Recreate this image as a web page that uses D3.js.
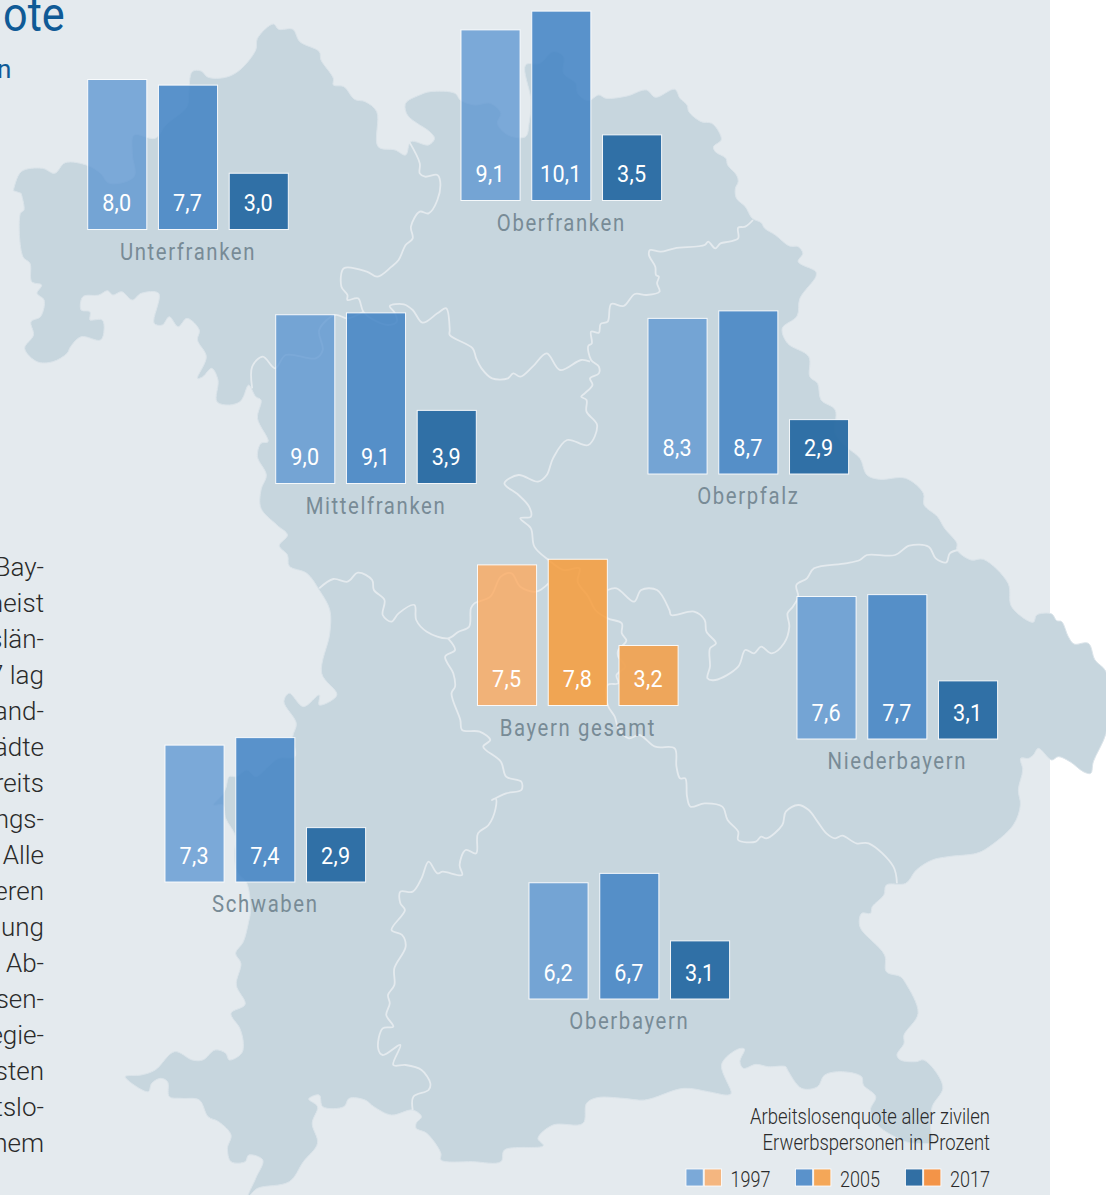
<!DOCTYPE html>
<html><head><meta charset="utf-8">
<style>html,body{margin:0;padding:0;background:#fff;overflow:hidden}svg{display:block}text{font-family:Roboto,sans-serif}</style>
<script src="https://cdn.jsdelivr.net/npm/d3@7"></script>
</head><body><svg id="c" width="1106" height="1195"></svg>
<script>
// ---- chart data ----
const regions = ["Unterfranken","Oberfranken","Mittelfranken","Oberpfalz","Bayern gesamt","Niederbayern","Schwaben","Oberbayern"];
const years = ["1997","2005","2017"];
const q1997 = [8.0,9.1,9.0,8.3,7.5,7.6,7.3,6.2];
const q2005 = [7.7,10.1,9.1,8.7,7.8,7.7,7.4,6.7];
const q2017 = [3.0,3.5,3.9,2.9,3.2,3.1,2.9,3.1];
// Schwaben 2005 is drawn taller in the picture than its printed 7,4
const drawnOverride = {"Schwaben|2005":7.7};
const legendTitle = ["Arbeitslosenquote aller zivilen","Erwerbspersonen in Prozent"];
const bodyFragments = ["Bay-","meist","slän-","7 lag","and-","ädte","reits","ngs-","Alle","eren","lung","Ab-","sen-","egie-","sten","tslo-","hem"];
// ---- layout ----
const groupLeft = [87.7,461,275.7,648,477.5,797,165,529];
const groupBase = [229.5,200.5,483.5,474,705.5,739,882,999];
const blues = ["#5893d0","#4183c4","#286aa2"], bluesSolid=["#7ba9d8","#5a92cb","#316fa4"];
const oranges = ["#ffa555","#f79c3b","#f0a353"], orangesSolid=["#f4b680","#f4a758","#f39448"];
const barOpacity=[.75,.85,.95];
// ---- map tracing (background geometry), crop-relative points ----
const T=(ox,oy,sx,sy,p)=>p.map(([x,y])=>[x/sx+ox,y/sy+oy]);
const Z1=p=>T(0,0,2.835,3,p),Z2=p=>T(553,0,2.835,3,p),Z3=p=>T(0,400,2.835,3,p),Z4=p=>T(553,400,2.835,3,p),Z5=p=>T(0,795,2.835,3,p),Z6=p=>T(553,795,2.835,3,p),Z7=p=>T(1000,590,3,3,p),Z8=p=>T(860,1050,3,3,p);
const outline=[].concat(
Z1([[38,572],[60,515],[120,505],[155,520],[185,488],[250,497],[285,520],[310,550],[380,530],[375,460],[380,405],[440,415],[470,375],[530,320],[535,280],[545,215],[570,213],[590,232],[640,232],[680,210],[725,150],[730,115],[775,72],[790,88],[830,88],[850,125],[905,155],[910,180],[945,235],[945,255],[975,260],[1005,298],[1035,305],[1068,335],[1072,440],[1120,450],[1150,465],[1165,425],[1215,435],[1232,415],[1215,392],[1190,375],[1155,345],[1150,310],[1190,285],[1220,275],[1290,280],[1305,300],[1345,315],[1390,310],[1420,340],[1410,370],[1440,405],[1490,410],[1500,370],[1505,300],[1490,195],[1530,190],[1568,155]]),
Z2([[30,170],[30,220],[65,250],[70,280],[100,302],[130,285],[150,295],[210,288],[265,270],[290,292],[345,268],[360,295],[380,315],[385,335],[420,365],[450,370],[470,395],[477,420],[455,440],[460,455],[490,475],[495,495],[520,525],[525,545],[517,565],[520,595],[545,620],[565,655],[590,668],[600,685],[630,705],[670,738],[695,740],[708,760],[695,785],[745,815],[745,830],[700,895],[692,948],[650,985],[665,1030],[725,1070],[728,1130],[750,1150],[760,1200]]),
Z4([[800,30],[800,100],[837,145],[870,175],[890,225],[925,238],[1000,235],[1050,280],[1052,315],[1090,350],[1110,385],[1145,430],[1145,450],[1185,480],[1220,478],[1290,550],[1300,620]]),
Z7([[100,97],[110,75],[155,72],[170,92],[185,95],[205,140],[222,162],[265,160],[285,210],[318,245],[325,340],[318,430],[280,515],[272,550],[250,545],[210,515],[175,500],[155,510],[115,475],[100,495],[85,505],[62,505],[68,540],[55,600]]),
Z6([[1325,30],[1305,90],[1230,160],[1200,175],[1120,185],[1075,195],[1030,225],[1000,265],[945,270],[938,300],[905,335],[900,355],[875,355],[870,395],[940,480],[945,530],[985,545],[1000,565],[1035,655],[995,720],[995,745],[975,780],[985,795],[1030,800],[1050,795],[1085,830],[1105,880],[1075,935],[1070,1000],[1075,1040],[1030,1045],[1000,1040],[920,990],[900,945],[915,905],[880,870],[875,845],[820,830],[770,840],[750,875],[705,880],[665,825],[660,815],[610,815],[575,808],[540,820],[530,800],[543,762],[525,762],[478,808],[505,895],[495,900],[440,890],[370,880],[260,915],[200,910],[125,908],[95,925],[85,985],[0,990]]),
Z5([[1525,1030],[1540,1052],[1430,1065],[1420,1100],[1340,1100],[1250,1095],[1250,1075],[1210,1015],[1180,1000],[1180,985],[1195,965],[1170,945],[1110,960],[1060,935],[1035,915],[990,910],[975,935],[915,935],[905,900],[875,912],[900,935],[885,985],[900,1045],[860,1100],[820,1160],[730,1180],[703,1205],[725,1150],[745,1095],[705,1080],[695,1100],[655,1100],[645,1060],[655,1020],[620,980],[590,965],[565,915],[515,910],[480,905],[475,860],[455,850],[430,865],[420,890],[355,845],[400,840],[440,825],[495,770],[545,795],[575,795],[610,765],[640,775],[650,795],[685,775],[690,745],[680,700],[655,655],[695,628],[670,570],[683,505],[668,475],[690,440],[705,380],[710,350],[700,265],[672,230],[665,175],[668,125],[640,70],[632,30],[605,30],[630,0]]),
Z3([[640,1165],[650,1130],[670,1130],[700,1110],[725,1130],[760,1100],[790,1075],[836,1070],[830,1010],[840,970],[805,905],[820,880],[860,920],[905,885],[905,915],[955,885],[912,820],[935,700],[935,630],[905,570],[870,520],[820,498],[815,465],[792,437],[815,405],[785,375],[740,325],[740,270],[755,225],[730,170],[740,130],[760,125],[730,55],[740,0]]),
Z1([[725,1190],[705,1155],[690,1190],[680,1205],[650,1215],[615,1205],[618,1140],[600,1105],[575,1130],[560,1135],[585,1070],[560,1020],[565,990],[530,955],[505,980],[480,950],[460,975],[437,970],[450,880],[400,880],[375,900],[345,875],[320,885],[305,872],[280,885],[235,890],[230,930],[255,935],[255,960],[265,960],[290,960],[295,990],[285,1020],[230,1010],[200,1040],[190,1060],[150,1085],[105,1085],[70,1045],[95,1005],[88,965],[115,950],[125,900],[105,880],[118,855],[90,845],[85,790],[65,770],[58,640],[68,630],[60,580]])
);
const borders=[
[].concat(Z1([[1160,425],[1190,490],[1190,520],[1205,530],[1240,525],[1248,545],[1240,600],[1215,640],[1190,635],[1165,680],[1170,715],[1150,735],[1130,780],[1110,800],[1070,830],[1040,815],[975,805],[968,860],[985,885],[985,900],[1015,895],[1030,935],[1060,960],[1100,975],[1125,965],[1120,940],[1105,918],[1145,913],[1170,930],[1198,968],[1240,940],[1265,925],[1275,990],[1275,1005],[1340,1045],[1350,1075],[1365,1105],[1395,1135],[1440,1135],[1455,1120],[1475,1130],[1510,1100],[1550,1060]]),Z2([[20,1110],[80,1080],[105,1085]])),
Z1([[715,1165],[715,1100],[745,1070],[780,1105],[810,1065],[895,1075],[915,1050],[905,990],[950,945],[985,955],[1030,935]]),
[].concat(Z2([[567,660],[545,680],[525,683],[525,715],[500,725],[475,730],[460,745],[440,725],[430,735],[345,745],[305,755],[275,750],[272,765],[290,800],[292,825],[300,830],[295,850],[302,875],[265,885],[232,882],[200,918],[165,912],[155,965],[135,972],[130,998],[108,995],[110,1030],[100,1038],[108,1080],[130,1100],[130,1120],[105,1135],[112,1155],[90,1180],[80,1190],[95,1200]]),Z4([[95,35],[125,75],[100,135],[40,120],[0,175]]),Z3([[1550,225],[1525,245],[1470,225],[1430,250],[1470,285],[1500,320],[1505,350],[1475,355],[1505,385],[1515,440],[1555,480]]),Z4([[30,510],[75,505],[70,545],[100,590],[120,630],[155,655],[195,670],[195,700],[208,722],[185,750],[185,770],[205,800],[180,825],[185,850],[155,855],[155,915],[175,950],[185,985],[215,1015],[245,1005],[290,1040],[345,1045],[350,1100],[360,1135],[375,1135],[380,1190]]),Z6([[390,35],[430,25],[480,35],[495,75],[525,110],[525,135],[575,140],[590,125],[605,130],[650,90],[660,50],[695,30],[725,45],[750,80],[775,115],[800,130],[820,122],[860,145],[895,145],[965,215],[975,265]])),
[].concat(Z3([[1555,550],[1520,575],[1475,560],[1450,520],[1420,530],[1390,590],[1345,610]]),Z3([[1335,625],[1330,680],[1300,695],[1270,715]]),Z3([[1210,695],[1180,660],[1175,615],[1130,640],[1110,665],[1085,645],[1090,600],[1060,570],[1055,540],[1015,518],[985,545],[945,537],[905,565]])),
[].concat(Z3([[1270,715],[1290,750],[1262,770],[1285,820],[1290,860],[1280,880],[1305,960],[1310,990],[1360,995],[1390,1020],[1370,1040],[1420,1085],[1435,1130],[1478,1145],[1478,1170],[1435,1180],[1395,1200]]),Z5([[1405,10],[1405,40],[1385,90],[1355,115],[1350,175],[1320,165],[1303,210],[1310,240],[1255,230],[1240,235],[1215,200],[1195,250],[1170,290],[1135,290],[1135,325],[1148,345],[1110,405],[1140,420],[1150,455],[1118,520],[1118,570],[1100,600],[1105,625],[1095,660],[1115,695],[1085,700],[1072,760],[1085,780],[1135,750],[1115,810],[1150,810],[1195,825],[1220,865],[1215,885],[1172,905],[1170,945]])),
Z4([[155,570],[180,565],[230,605],[250,570],[295,570],[330,630],[335,645],[400,635],[430,660],[435,695],[462,730],[445,745],[445,800],[438,835],[460,840],[525,800],[545,750],[570,760],[590,740],[620,760],[655,730],[670,680],[665,640],[680,620],[695,590],[690,555],[720,535],[740,505],[830,490],[870,480],[890,465],[970,465],[1010,437],[1065,440],[1085,475],[1115,487],[1125,460],[1148,450]])
];

// ---- draw ----
const svg=d3.select("#c");
svg.append("rect").attr("width",1050).attr("height",1195).attr("fill","#e4eaee");
const line=d3.line().curve(d3.curveCatmullRom.alpha(.5));
svg.append("path").attr("d",line(outline)+"Z").attr("fill","#c7d6de").attr("stroke","#dbe4ea").attr("stroke-width",1);
svg.selectAll("path.b").data(borders).join("path").attr("class","b").attr("d",d=>line(d)).attr("fill","none").attr("stroke","#e4eaee").attr("stroke-width",1.8).attr("stroke-linejoin","round");

const x=d3.scaleBand().domain(years).range([0,200.6]).paddingInner(.165);
const h=d3.scaleLinear().domain([0,10]).range([0,187.5]);
const condensed=(sel,sx)=>sel.attr("transform",function(){const t=d3.select(this);return `translate(${t.attr("data-x")},${t.attr("data-y")}) scale(${sx},1)`});

regions.forEach((r,i)=>{
  const vals=[q1997[i],q2005[i],q2017[i]];
  const g=svg.append("g").attr("transform",`translate(${groupLeft[i]},${groupBase[i]})`);
  const isOr=r==="Bayern gesamt";
  const rows=years.map((y,k)=>({y,k,v:vals[k],dv:drawnOverride[r+"|"+y]??vals[k]}));
  g.selectAll("rect").data(rows).join("rect")
    .attr("x",d=>x(d.y)).attr("width",x.bandwidth())
    .attr("y",d=>-h(d.dv)).attr("height",d=>h(d.dv))
    .attr("fill",d=>(isOr?oranges:blues)[d.k]).attr("fill-opacity",d=>barOpacity[d.k]);
  g.selectAll("rect.o").data(rows).join("rect").attr("class","o")
    .attr("x",d=>x(d.y)).attr("width",x.bandwidth())
    .attr("y",d=>-h(d.dv)).attr("height",d=>h(d.dv))
    .attr("fill","none").attr("stroke","#fff").attr("stroke-opacity",.9).attr("stroke-width",1);
  g.selectAll("text.v").data(rows).join("text").attr("class","v")
    .attr("data-x",d=>x(d.y)+x.bandwidth()/2-.4).attr("data-y",-18.5)
    .attr("text-anchor","middle").attr("fill","#fff").attr("font-size",24).attr("letter-spacing",.3)
    .text(d=>d3.format(".1f")(d.v).replace(".",",")).call(condensed,.9);
  g.append("text").attr("data-x",x.range()[1]/2).attr("data-y",30)
    .attr("text-anchor","middle").attr("fill","#788b96").attr("font-size",24.5).attr("letter-spacing",1.95)
    .text(r).call(condensed,.83);
});

// clipped title fragment and body text from the page
svg.append("text").attr("data-x",3).attr("data-y",31).attr("fill","#0f5a96").attr("font-size",48).text("ote").call(condensed,.9);
svg.append("text").attr("data-x",-3).attr("data-y",78).attr("fill","#0f5a96").attr("font-size",26).text("n").call(condensed,1);
svg.selectAll("text.body").data(bodyFragments).join("text").attr("class","body")
  .attr("x",44).attr("y",(d,i)=>575.5+i*36).attr("text-anchor","end").attr("font-size",26).attr("font-weight",300).attr("fill","#2a2a2a").text(d=>d);

// legend
svg.selectAll("text.lt").data(legendTitle).join("text").attr("class","lt")
  .attr("data-x",990).attr("data-y",(d,i)=>1124+i*26).attr("text-anchor","end").attr("font-size",21.5).attr("font-weight",300).attr("fill","#2a2a2a").text(d=>d).call(condensed,.86);
const legendX=d3.scaleOrdinal().domain(years).range([686,795.5,905.5]);
years.forEach((y,k)=>{
  const lx=legendX(y);
  [bluesSolid[k],orangesSolid[k]].forEach((c,j)=>svg.append("rect").attr("x",lx+j*18.2).attr("y",1169).attr("width",17.2).attr("height",17).attr("fill",c).attr("stroke","#fff").attr("stroke-width",.8));
  svg.append("text").attr("data-x",lx+84.5).attr("data-y",1187).attr("text-anchor","end").attr("font-size",22).attr("font-weight",300).attr("fill","#2a2a2a").text(y).call(condensed,.82);
});
</script></body></html>
